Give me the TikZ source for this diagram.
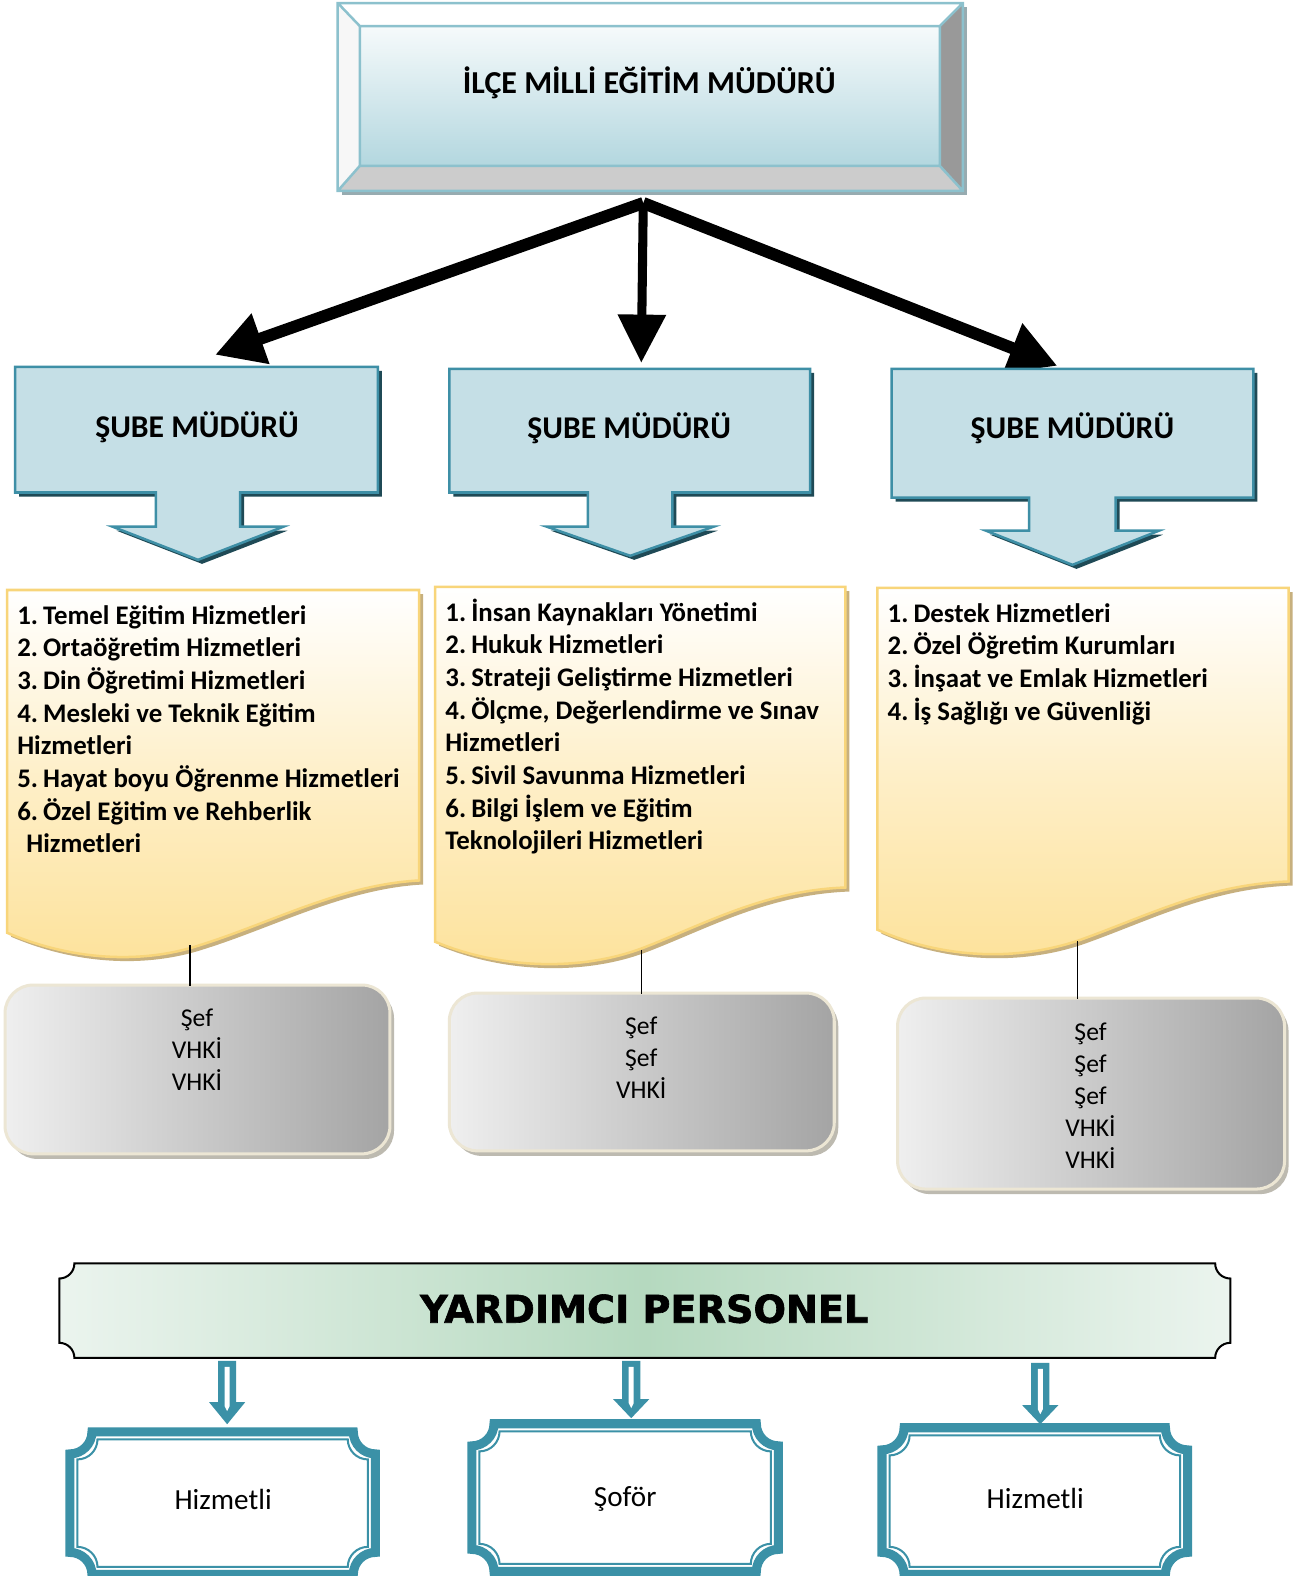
\documentclass[tikz,border=0pt]{standalone}
\usepackage{fontspec}
\setmainfont{Carlito}
\newfontfamily\ypfont[BoldFeatures={FakeBold=1.6}]{DejaVu Sans}
\usetikzlibrary{arrows.meta}
\definecolor{tealA}{HTML}{3B91A7}
\definecolor{shubeFill}{HTML}{C5DFE6}
\definecolor{shubeLine}{HTML}{3E8FA6}
\definecolor{shubeShadow}{HTML}{1F4A56}
\definecolor{titleLine}{HTML}{8CC1CD}
\definecolor{titleTop}{HTML}{F6FAFB}
\definecolor{titleBot}{HTML}{B3D7DF}
\definecolor{titleShadow}{HTML}{97ABB0}
\definecolor{docYellow}{HTML}{FDE29B}
\definecolor{docLine}{HTML}{F8D57A}
\definecolor{docShadow}{HTML}{C7B07E}
\definecolor{greyL}{HTML}{EFEFEF}
\definecolor{greyR}{HTML}{A4A4A4}
\definecolor{greyLine}{HTML}{ECE6D4}
\definecolor{greyShadow}{HTML}{BDBAB0}
\definecolor{banLight}{HTML}{EBF4EE}
\definecolor{banDark}{HTML}{B5D9BF}
\newcommand{\lstfnt}{\bfseries\fontsize{26.7}{32.5}\selectfont}
\newcommand{\nsp}{\kern-1pt\ }
\newcommand{\grfnt}{\fontsize{25.5}{32}\selectfont}
\newcommand{\plaquepath}[5]{({#1+#5},{#2}) -- ({#3-#5},{#2}) .. controls ({#3-#5},{#2+0.552*#5}) and ({#3-0.552*#5},{#2+#5}) .. ({#3},{#2+#5}) -- ({#3},{#4-#5}) .. controls ({#3-0.552*#5},{#4-#5}) and ({#3-#5},{#4-0.552*#5}) .. ({#3-#5},{#4}) -- ({#1+#5},{#4}) .. controls ({#1+#5},{#4-0.552*#5}) and ({#1+0.552*#5},{#4-#5}) .. ({#1},{#4-#5}) -- ({#1},{#2+#5}) .. controls ({#1+0.552*#5},{#2+#5}) and ({#1+#5},{#2+0.552*#5}) .. ({#1+#5},{#2}) -- cycle}
\newcommand{\calloutpath}[9]{(#1,#2) -- (#3,#2) -- (#3,#4) -- ({#5+#6},#4) -- ({#5+#6},#8) -- ({#5+#7},#8) -- (#5,#9) -- ({#5-#7},#8) -- ({#5-#6},#8) -- ({#5-#6},#4) -- (#1,#4) -- cycle}
\newcommand{\tealarrow}[4]{%
  \fill[tealA] ({#1-9},#2) -- ({#1+9},#2) -- ({#1+9},#3) -- ({#1+18},#3) -- (#1,#4) -- ({#1-18},#3) -- ({#1-9},#3) -- cycle;
  \fill[white] ({#1-2.5},{#2+6}) -- ({#1+2.5},{#2+6}) -- ({#1+2.5},{#3+4}) -- (#1,{#3+9}) -- ({#1-2.5},{#3+4}) -- cycle;}
\tikzset{
  shubebox/.style={fill=shubeFill, draw=shubeLine, line width=2.5pt, line join=miter},
  shubeshadow/.style={fill=shubeShadow},
  docbox/.style={draw=docLine, line width=2.5pt, top color=white, bottom color=docYellow, middle color=docYellow!55},
  docshadow/.style={fill=docShadow},
  greybox/.style={draw=greyLine, line width=3pt, left color=greyL, right color=greyR, rounded corners=28pt},
  greyshadow/.style={fill=greyShadow, rounded corners=28pt},
  plaqueouter/.style={draw=tealA, line width=9pt},
  plaqueinner/.style={draw=tealA, line width=2pt},
  banner/.style={draw=black, line width=2pt, left color=banLight, right color=banLight, middle color=banDark},
  bigarrow/.style={line width=12pt, -{Triangle[length=48pt,width=50pt]}},
  conn/.style={draw=black, line width=1.2pt},
  lbl/.style={inner sep=0pt, anchor=base}
}
\begin{document}
\begin{tikzpicture}[x=1pt,y=-1pt]
\useasboundingbox (0,0) rectangle (1297,1568);
\fill[white] (0,0) rectangle (1297,1568);
\clip (0,0) rectangle (1297,1568);

% ---------- title bevel box ----------
\fill[titleShadow] (340,7) rectangle (962,194);
\fill[white] (336,3) -- (958,3) -- (935,26) -- (358,26) -- cycle;
\fill[white!97!black] (336,3) -- (358,26) -- (358,165) -- (336,190) -- cycle;
\fill[black!40] (958,3) -- (958,190) -- (935,165) -- (935,26) -- cycle;
\fill[black!20] (336,190) -- (958,190) -- (935,165) -- (358,165) -- cycle;
\shade[top color=titleTop, bottom color=titleBot] (358,26) rectangle (935,165);
\draw[titleLine, line width=2.5pt] (336,3) rectangle (958,190) (358,26) rectangle (935,165)
  (336,3) -- (358,26) (958,3) -- (935,26) (958,190) -- (935,165) (336,190) -- (358,165);
\node[lbl, font=\bfseries\fontsize{31.8}{37}\selectfont] (title) at (646,93) {İLÇE MİLLİ EĞİTİM MÜDÜRÜ};

% ---------- black arrows ----------
\coordinate (hub) at (640,202);
\coordinate (tipL) at (214,353);
\coordinate (tipM) at (638,361);
\coordinate (tipR) at (1052,364);
\draw[bigarrow] (hub) -- (tipL);
\draw[bigarrow] (hub) -- (tipR);
\draw[line width=9pt, -{Triangle[length=48pt,width=46pt]}] (hub) -- (tipM);

% ---------- sube callouts ----------
\fill[shubeshadow, shift={(4,4)}] \calloutpath{15}{365}{376}{490}{197}{42}{85}{524}{557};
\path[shubebox] \calloutpath{15}{365}{376}{490}{197}{42}{85}{524}{557};
\fill[shubeshadow, shift={(4,4)}] \calloutpath{447}{367}{806}{490}{627}{42}{83}{524}{553};
\path[shubebox] \calloutpath{447}{367}{806}{490}{627}{42}{83}{524}{553};
\fill[shubeshadow, shift={(4,4)}] \calloutpath{887}{367}{1247}{495}{1067}{43}{86}{528}{562};
\path[shubebox] \calloutpath{887}{367}{1247}{495}{1067}{43}{86}{528}{562};
\node[lbl, font=\bfseries\fontsize{31.5}{37}\selectfont] (sube1) at (196,435) {ŞUBE MÜDÜRÜ};
\node[lbl, font=\bfseries\fontsize{31.5}{37}\selectfont] (sube2) at (626,436) {ŞUBE MÜDÜRÜ};
\node[lbl, font=\bfseries\fontsize{31.5}{37}\selectfont] (sube3) at (1067,436) {ŞUBE MÜDÜRÜ};

% ---------- yellow document boxes ----------
\fill[docshadow, shift={(4,4)}] (7,587) -- (417,587) -- (417,876) .. controls (340,880) and (270,918) .. (200,940) .. controls (140,960) and (70,955) .. (7,928) -- cycle;
\path[docbox] (7,587) -- (417,587) -- (417,876) .. controls (340,880) and (270,918) .. (200,940) .. controls (140,960) and (70,955) .. (7,928) -- cycle;
\fill[docshadow, shift={(4,4)}] (433,584) -- (841,584) -- (841,883) .. controls (760,886) and (700,920) .. (640,943) .. controls (580,966) and (500,965) .. (433,937) -- cycle;
\path[docbox] (433,584) -- (841,584) -- (841,883) .. controls (760,886) and (700,920) .. (640,943) .. controls (580,966) and (500,965) .. (433,937) -- cycle;
\fill[docshadow, shift={(4,4)}] (873,585) -- (1282,585) -- (1282,877) .. controls (1200,880) and (1140,912) .. (1075,935) .. controls (1015,956) and (940,955) .. (873,925) -- cycle;
\path[docbox] (873,585) -- (1282,585) -- (1282,877) .. controls (1200,880) and (1140,912) .. (1075,935) .. controls (1015,956) and (940,955) .. (873,925) -- cycle;

\node[inner sep=0pt, anchor=base west] (list1) at (17,621) {\parbox[t]{400pt}{\lstfnt
1.\nsp Temel Eğitim Hizmetleri\\
2.\nsp Ortaöğretim Hizmetleri\\
3.\nsp Din Öğretimi Hizmetleri\\
4.\nsp Mesleki ve Teknik Eğitim\\
Hizmetleri\\
5.\nsp Hayat boyu Öğrenme Hizmetleri\\
6.\nsp Özel Eğitim ve Rehberlik\\
\hspace*{9pt}Hizmetleri}};
\node[inner sep=0pt, anchor=base west] (list2) at (443,618) {\parbox[t]{400pt}{\lstfnt
1.\nsp İnsan Kaynakları Yönetimi\\
2.\nsp Hukuk Hizmetleri\\
3.\nsp Strateji Geliştirme Hizmetleri\\
4.\nsp Ölçme, Değerlendirme ve Sınav\\
Hizmetleri\\
5.\nsp Sivil Savunma Hizmetleri\\
6.\nsp Bilgi İşlem ve Eğitim\\
Teknolojileri Hizmetleri}};
\node[inner sep=0pt, anchor=base west] (list3) at (883,619) {\parbox[t]{400pt}{\lstfnt
1.\nsp Destek Hizmetleri\\
2.\nsp Özel Öğretim Kurumları\\
3.\nsp İnşaat ve Emlak Hizmetleri\\
4.\nsp İş Sağlığı ve Güvenliği}};

% ---------- grey boxes ----------
\fill[greyshadow] (9,985) rectangle (392,1153);
\path[greybox] (5,980) rectangle (388,1148);
\fill[greyshadow] (451,993) rectangle (834,1150);
\path[greybox] (447,988) rectangle (830,1145);
\fill[greyshadow] (897,998) rectangle (1282,1188);
\path[greybox] (893,993) rectangle (1278,1183);
\node[lbl] (grey1) at (196,1021) {\parbox[t]{200pt}{\centering\grfnt Şef\\VHKİ\\VHKİ}};
\node[lbl] (grey2) at (638,1029) {\parbox[t]{200pt}{\centering\grfnt Şef\\Şef\\VHKİ}};
\node[lbl] (grey3) at (1085,1035) {\parbox[t]{200pt}{\centering\grfnt Şef\\Şef\\Şef\\VHKİ\\VHKİ}};

% connectors doc -> grey
\coordinate (d1) at (189,940); \coordinate (g1) at (189,981);
\coordinate (d2) at (638,945); \coordinate (g2) at (638,989);
\coordinate (d3) at (1072,936); \coordinate (g3) at (1072,994);
\draw[conn] (d1) -- (g1);
\draw[conn] (d2) -- (g2);
\draw[conn] (d3) -- (g3);

% ---------- banner ----------
\path[banner] \plaquepath{59}{1257}{1224}{1351}{15};
\node[lbl, font=\ypfont\bfseries\fontsize{38}{44}\selectfont] (yp) at (641,1316) {YARDIMCI PERSONEL};

% ---------- teal arrows ----------
\tealarrow{226}{1354}{1395}{1417}
\tealarrow{628}{1354}{1392}{1411}
\tealarrow{1035}{1356}{1398}{1417}

% ---------- teal plaques ----------
\draw[plaqueouter] \plaquepath{69.5}{1424.5}{373.5}{1566.5}{22};
\draw[plaqueinner] \plaquepath{77}{1432}{366}{1559}{20};
\draw[plaqueouter] \plaquepath{469.5}{1416.5}{774.5}{1563.5}{22};
\draw[plaqueinner] \plaquepath{477}{1424}{767}{1556}{20};
\draw[plaqueouter] \plaquepath{877.5}{1420.5}{1181.5}{1566.5}{22};
\draw[plaqueinner] \plaquepath{885}{1428}{1174}{1559}{20};
\node[lbl, font=\fontsize{29}{35}\selectfont] (p1) at (222,1502) {Hizmetli};
\node[lbl, font=\fontsize{29}{35}\selectfont] (p2) at (622,1499) {Şoför};
\node[lbl, font=\fontsize{29}{35}\selectfont] (p3) at (1030,1501) {Hizmetli};
\end{tikzpicture}
\end{document}
